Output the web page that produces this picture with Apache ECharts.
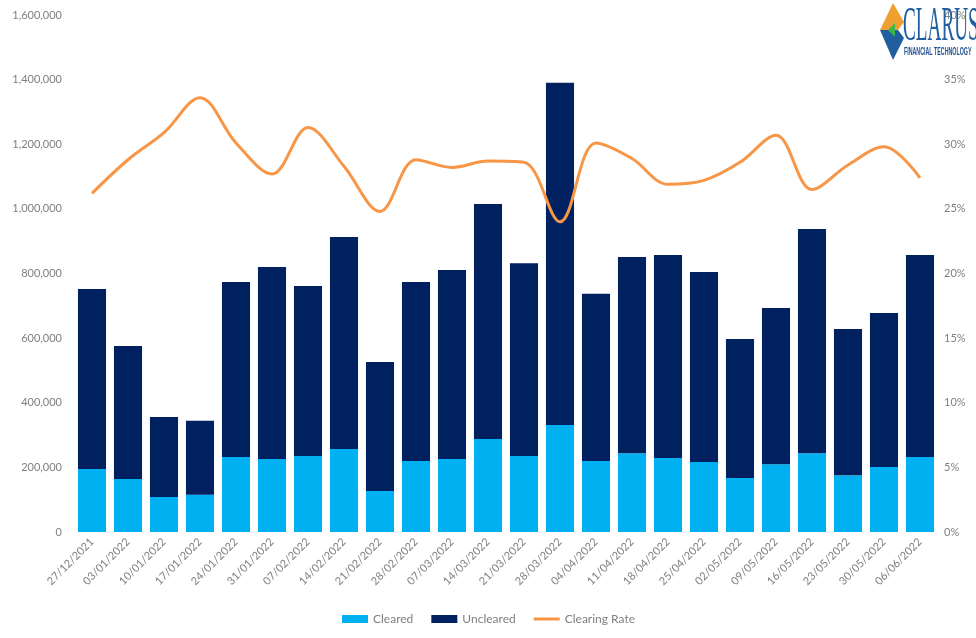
<!DOCTYPE html>
<html>
<head>
<meta charset="utf-8">
<script src="https://cdn.jsdelivr.net/npm/echarts@6/dist/echarts.min.js"></script>
<style>
html,body{margin:0;padding:0;background:#fff;}
#c{width:976px;height:638px;}
</style>
</head>
<body>
<div id="c"></div>
<script>
const categories = ["27/12/2021","03/01/2022","10/01/2022","17/01/2022","24/01/2022","31/01/2022","07/02/2022","14/02/2022","21/02/2022","28/02/2022","07/03/2022","14/03/2022","21/03/2022","28/03/2022","04/04/2022","11/04/2022","18/04/2022","25/04/2022","02/05/2022","09/05/2022","16/05/2022","23/05/2022","30/05/2022","06/06/2022"];
const cleared = [195000,164000,108000,115000,232000,226000,235000,257000,127000,220000,226000,288000,235000,331000,220000,244000,229000,217000,167000,210000,244000,176000,201000,232000];
const uncleared = [557000,412000,248000,229000,542000,594000,526000,656000,399000,554000,585000,727000,597000,1059000,517000,607000,628000,588000,430000,483000,694000,452000,477000,625000];
const clearingRate = [26.2,28.8,30.9,33.6,30.1,27.7,31.3,28.3,24.8,28.8,28.2,28.7,28.6,24.0,30.1,28.9,26.9,27.2,28.6,30.7,26.5,28.4,29.8,27.4];
const leftTicks = {min:0, max:1600000, interval:200000};
const rightTicks = {min:0, max:40, interval:5};

const labelColor = '#7f7f7f';
const font = 'Lato';
const chart = echarts.init(document.getElementById('c'), null, {renderer:'canvas'});
chart.setOption({
  animation:false,
  textStyle:{fontFamily:font},
  grid:{left:74, right:38, top:15, bottom:106, containLabel:false},
  legend:{
    bottom:8, left:337,
    itemGap:18, itemWidth:26, itemHeight:8,
    textStyle:{color:labelColor, fontSize:12, fontFamily:font},
    data:[
      {name:'Cleared', icon:'rect'},
      {name:'Uncleared', icon:'rect'},
      {name:'Clearing Rate', icon:'path://M0,0H0.01V8H0Z M0,2.6H26V5.4H0Z M25.99,0H26V8H25.99Z'}
    ]
  },
  xAxis:{
    type:'category', data:categories,
    axisLine:{show:false}, axisTick:{show:false},
    axisLabel:{rotate:45, color:labelColor, fontSize:11, margin:8, interval:0}
  },
  yAxis:[
    {type:'value', min:leftTicks.min, max:leftTicks.max, interval:leftTicks.interval,
     splitLine:{show:false}, axisLine:{show:false}, axisTick:{show:false},
     axisLabel:{color:labelColor, fontSize:11, margin:12,
       formatter:v=>v.toLocaleString('en-US')}},
    {type:'value', min:rightTicks.min, max:rightTicks.max, interval:rightTicks.interval,
     position:'right', splitLine:{show:false}, axisLine:{show:false}, axisTick:{show:false},
     axisLabel:{color:labelColor, fontSize:11, margin:6, formatter:v=>v+'%'}}
  ],
  series:[
    {name:'Cleared', type:'bar', stack:'t', data:cleared, itemStyle:{color:'#00b0f0'}, barCategoryGap:'22%'},
    {name:'Uncleared', type:'bar', stack:'t', data:uncleared, itemStyle:{color:'#002060'}},
    {name:'Clearing Rate', type:'line', yAxisIndex:1, data:clearingRate, smooth:0.35,
     showSymbol:false, symbol:'none', lineStyle:{color:'#f79646', width:3}, itemStyle:{color:'#f79646'}}
  ],
  graphic:[
    {type:'polygon', z:51, shape:{points:[[893,3],[904,22],[898,30],[886,30],[880,30]]}, style:{fill:'#f0a030'}},
    {type:'polygon', z:51, shape:{points:[[880,30],[886,30],[898,30],[904,38],[893,60]]}, style:{fill:'#1f5fa0'}},
    {type:'polygon', z:52, shape:{points:[[888,30],[895,23],[895,37]]}, style:{fill:'#3cb44b'}},
    {type:'text', z:53, x:903, y:51, scaleX:0.4,
     style:{text:'CLARUS', fontFamily:'Liberation Serif', fontSize:48, fill:'#1f5fa0', verticalAlign:'bottom', align:'left'}},
    {type:'text', z:53, x:904, y:57, scaleX:0.53,
     style:{text:'FINANCIAL TECHNOLOGY', fontFamily:'Liberation Sans', fontWeight:'bold', fontSize:10, fill:'#1f4f8f', verticalAlign:'bottom', align:'left'}}
  ]
});
</script>
</body>
</html>
